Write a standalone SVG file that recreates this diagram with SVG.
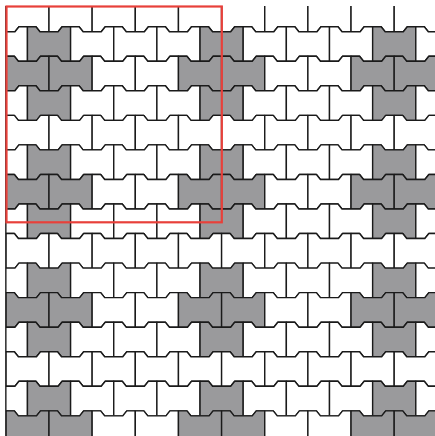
<svg xmlns="http://www.w3.org/2000/svg" xmlns:xlink="http://www.w3.org/1999/xlink" width="435" height="436" viewBox="0 0 435 436">
<style>
.t{stroke:#1a1a1a;stroke-width:1.4;stroke-linejoin:round}
.w{fill:#ffffff}
.g{fill:#9a9a9c}
.border{stroke:#1a1a1a;stroke-width:1.4}
.frame{fill:none;stroke:#e8403a;stroke-width:2.2}
</style>
<defs>
<path id="t" d="M0,-2.5 H8.5 L12.5,2.5 H30.65 L34.65,-2.5 H43.15 V32.05 H34.075 L30.075,27.05 H13.075 L9.075,32.05 H0 Z"/>
<clipPath id="c"><rect x="5.85" y="6" width="440" height="440"/></clipPath>
</defs>
<rect width="435" height="436" fill="#ffffff"/>
<g id="pavers" clip-path="url(#c)" class="t">
<g id="row0" transform="translate(0,-0.35)">
<use href="#t" class="w" x="5.85"/><use href="#t" class="w" x="49"/><use href="#t" class="w" x="92.15"/><use href="#t" class="w" x="135.3"/><use href="#t" class="w" x="178.45"/><use href="#t" class="w" x="221.6"/><use href="#t" class="w" x="264.75"/><use href="#t" class="w" x="307.9"/><use href="#t" class="w" x="351.05"/><use href="#t" class="w" x="394.2"/>
</g>
<g id="row1" transform="translate(0,29.2)">
<use href="#t" class="w" x="-15.7"/><use href="#t" class="g" x="27.45"/><use href="#t" class="w" x="70.6"/><use href="#t" class="w" x="113.75"/><use href="#t" class="w" x="156.9"/><use href="#t" class="g" x="200.05"/><use href="#t" class="w" x="243.2"/><use href="#t" class="w" x="286.35"/><use href="#t" class="w" x="329.5"/><use href="#t" class="g" x="372.65"/><use href="#t" class="w" x="415.8"/>
</g>
<g id="row2" transform="translate(0,58.75)">
<use href="#t" class="g" x="5.85"/><use href="#t" class="g" x="49"/><use href="#t" class="w" x="92.15"/><use href="#t" class="w" x="135.3"/><use href="#t" class="g" x="178.45"/><use href="#t" class="g" x="221.6"/><use href="#t" class="w" x="264.75"/><use href="#t" class="w" x="307.9"/><use href="#t" class="g" x="351.05"/><use href="#t" class="g" x="394.2"/>
</g>
<g id="row3" transform="translate(0,88.3)">
<use href="#t" class="w" x="-15.7"/><use href="#t" class="g" x="27.45"/><use href="#t" class="w" x="70.6"/><use href="#t" class="w" x="113.75"/><use href="#t" class="w" x="156.9"/><use href="#t" class="g" x="200.05"/><use href="#t" class="w" x="243.2"/><use href="#t" class="w" x="286.35"/><use href="#t" class="w" x="329.5"/><use href="#t" class="g" x="372.65"/><use href="#t" class="w" x="415.8"/>
</g>
<g id="row4" transform="translate(0,117.85)">
<use href="#t" class="w" x="5.85"/><use href="#t" class="w" x="49"/><use href="#t" class="w" x="92.15"/><use href="#t" class="w" x="135.3"/><use href="#t" class="w" x="178.45"/><use href="#t" class="w" x="221.6"/><use href="#t" class="w" x="264.75"/><use href="#t" class="w" x="307.9"/><use href="#t" class="w" x="351.05"/><use href="#t" class="w" x="394.2"/>
</g>
<g id="row5" transform="translate(0,147.4)">
<use href="#t" class="w" x="-15.7"/><use href="#t" class="g" x="27.45"/><use href="#t" class="w" x="70.6"/><use href="#t" class="w" x="113.75"/><use href="#t" class="w" x="156.9"/><use href="#t" class="g" x="200.05"/><use href="#t" class="w" x="243.2"/><use href="#t" class="w" x="286.35"/><use href="#t" class="w" x="329.5"/><use href="#t" class="g" x="372.65"/><use href="#t" class="w" x="415.8"/>
</g>
<g id="row6" transform="translate(0,176.95)">
<use href="#t" class="g" x="5.85"/><use href="#t" class="g" x="49"/><use href="#t" class="w" x="92.15"/><use href="#t" class="w" x="135.3"/><use href="#t" class="g" x="178.45"/><use href="#t" class="g" x="221.6"/><use href="#t" class="w" x="264.75"/><use href="#t" class="w" x="307.9"/><use href="#t" class="g" x="351.05"/><use href="#t" class="g" x="394.2"/>
</g>
<g id="row7" transform="translate(0,206.5)">
<use href="#t" class="w" x="-15.7"/><use href="#t" class="g" x="27.45"/><use href="#t" class="w" x="70.6"/><use href="#t" class="w" x="113.75"/><use href="#t" class="w" x="156.9"/><use href="#t" class="g" x="200.05"/><use href="#t" class="w" x="243.2"/><use href="#t" class="w" x="286.35"/><use href="#t" class="w" x="329.5"/><use href="#t" class="g" x="372.65"/><use href="#t" class="w" x="415.8"/>
</g>
<g id="row8" transform="translate(0,236.05)">
<use href="#t" class="w" x="5.85"/><use href="#t" class="w" x="49"/><use href="#t" class="w" x="92.15"/><use href="#t" class="w" x="135.3"/><use href="#t" class="w" x="178.45"/><use href="#t" class="w" x="221.6"/><use href="#t" class="w" x="264.75"/><use href="#t" class="w" x="307.9"/><use href="#t" class="w" x="351.05"/><use href="#t" class="w" x="394.2"/>
</g>
<g id="row9" transform="translate(0,265.6)">
<use href="#t" class="w" x="-15.7"/><use href="#t" class="g" x="27.45"/><use href="#t" class="w" x="70.6"/><use href="#t" class="w" x="113.75"/><use href="#t" class="w" x="156.9"/><use href="#t" class="g" x="200.05"/><use href="#t" class="w" x="243.2"/><use href="#t" class="w" x="286.35"/><use href="#t" class="w" x="329.5"/><use href="#t" class="g" x="372.65"/><use href="#t" class="w" x="415.8"/>
</g>
<g id="row10" transform="translate(0,295.15)">
<use href="#t" class="g" x="5.85"/><use href="#t" class="g" x="49"/><use href="#t" class="w" x="92.15"/><use href="#t" class="w" x="135.3"/><use href="#t" class="g" x="178.45"/><use href="#t" class="g" x="221.6"/><use href="#t" class="w" x="264.75"/><use href="#t" class="w" x="307.9"/><use href="#t" class="g" x="351.05"/><use href="#t" class="g" x="394.2"/>
</g>
<g id="row11" transform="translate(0,324.7)">
<use href="#t" class="w" x="-15.7"/><use href="#t" class="g" x="27.45"/><use href="#t" class="w" x="70.6"/><use href="#t" class="w" x="113.75"/><use href="#t" class="w" x="156.9"/><use href="#t" class="g" x="200.05"/><use href="#t" class="w" x="243.2"/><use href="#t" class="w" x="286.35"/><use href="#t" class="w" x="329.5"/><use href="#t" class="g" x="372.65"/><use href="#t" class="w" x="415.8"/>
</g>
<g id="row12" transform="translate(0,354.25)">
<use href="#t" class="w" x="5.85"/><use href="#t" class="w" x="49"/><use href="#t" class="w" x="92.15"/><use href="#t" class="w" x="135.3"/><use href="#t" class="w" x="178.45"/><use href="#t" class="w" x="221.6"/><use href="#t" class="w" x="264.75"/><use href="#t" class="w" x="307.9"/><use href="#t" class="w" x="351.05"/><use href="#t" class="w" x="394.2"/>
</g>
<g id="row13" transform="translate(0,383.8)">
<use href="#t" class="w" x="-15.7"/><use href="#t" class="g" x="27.45"/><use href="#t" class="w" x="70.6"/><use href="#t" class="w" x="113.75"/><use href="#t" class="w" x="156.9"/><use href="#t" class="g" x="200.05"/><use href="#t" class="w" x="243.2"/><use href="#t" class="w" x="286.35"/><use href="#t" class="w" x="329.5"/><use href="#t" class="g" x="372.65"/><use href="#t" class="w" x="415.8"/>
</g>
<g id="row14" transform="translate(0,413.35)">
<use href="#t" class="g" x="5.85"/><use href="#t" class="g" x="49"/><use href="#t" class="w" x="92.15"/><use href="#t" class="w" x="135.3"/><use href="#t" class="g" x="178.45"/><use href="#t" class="g" x="221.6"/><use href="#t" class="w" x="264.75"/><use href="#t" class="w" x="307.9"/><use href="#t" class="g" x="351.05"/><use href="#t" class="g" x="394.2"/>
</g>
</g>
<line class="border" x1="5.85" y1="6" x2="5.85" y2="436"/>
<rect class="frame" x="6.5" y="6.5" width="215.3" height="215.8"/>
</svg>
